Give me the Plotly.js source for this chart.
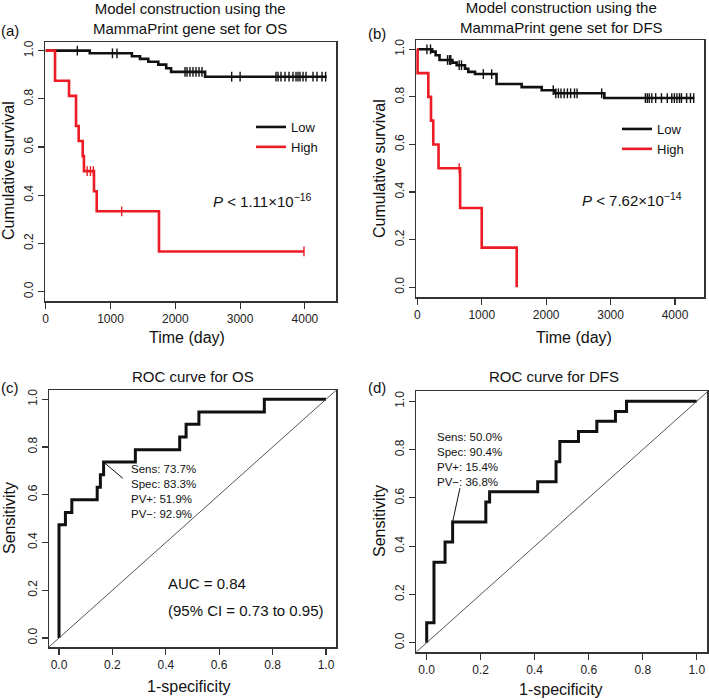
<!DOCTYPE html>
<html>
<head>
<meta charset="utf-8">
<script src="https://cdn.plot.ly/plotly-3.0.1.min.js"></script>
<style>
  html, body { margin: 0; padding: 0; background: #fff; }
  #chart { width: 709px; height: 700px; }
</style>
</head>
<body>
<div id="chart"></div>
<script>
// Overall survival, MammaPrint risk groups (panel a)
const osLowTime = [0, 680, 1330, 1455, 1583, 1738, 1860, 1935, 2460, 4336];
const osLowSurv = [1, 0.989, 0.977, 0.966, 0.954, 0.942, 0.927, 0.912, 0.892, 0.892];
const osLowCensor = [488, 1030, 1100, 2150, 2181, 2227, 2273, 2319, 2366, 2412, 2870, 3000,
  3554, 3585, 3631, 3693, 3755, 3816, 3863, 3894, 3924, 3971, 4017, 4125, 4187, 4264, 4320];
const osHighTime = [0, 144, 360, 468, 509, 571, 590, 745, 787, 1748, 3986];
const osHighSurv = [1, 0.875, 0.8125, 0.6875, 0.625, 0.5625, 0.5, 0.4167, 0.3333, 0.1667, 0.1667];
const osHighCensor = [640, 690, 735, 1173, 3986];

// Disease-free survival (panel b)
const dfsLowTime = [0, 230, 285, 345, 545, 611, 740, 792, 896, 1230, 1620, 1931, 2137, 2903, 4300];
const dfsLowSurv = [1, 0.990, 0.975, 0.955, 0.944, 0.933, 0.918, 0.905, 0.896, 0.854, 0.841, 0.828, 0.815, 0.795, 0.795];
const dfsLowCensor = [150, 205, 470, 500, 520, 650, 686, 1025, 1155, 2110, 2150, 2190, 2230, 2280, 2330,
  2380, 2440, 2480, 2862, 3540, 3570, 3600, 3640, 3700, 3790, 3880, 3950, 3990, 4030, 4070, 4100, 4180, 4240, 4290];
const dfsHighTime = [0, 5, 171, 213, 248, 330, 665, 1000, 1543];
const dfsHighSurv = [1, 0.9, 0.8, 0.7, 0.6, 0.5, 0.3333, 0.1667, 0];
const dfsHighCensor = [650];

const groupNames = ["Low", "High"];
const pValueText = ["1.11×10<sup>−16</sup>", "7.62×10<sup>−14</sup>"];

// ROC curves (panels c, d), 1-specificity vs sensitivity
const rocOsFpr = [0, 0, 0.024, 0.048, 0.143, 0.155, 0.167, 0.286, 0.452, 0.476, 0.524, 0.769, 1];
const rocOsSens = [0, 0.474, 0.526, 0.579, 0.632, 0.684, 0.737, 0.789, 0.842, 0.895, 0.947, 1, 1];
const rocDfsFpr = [0, 0, 0.027, 0.068, 0.096, 0.219, 0.233, 0.411, 0.479, 0.493, 0.562, 0.630, 0.699, 0.740, 1];
const rocDfsSens = [0, 0.083, 0.333, 0.417, 0.5, 0.583, 0.625, 0.667, 0.75, 0.833, 0.875, 0.917, 0.958, 1, 1];

const rocOsStats = ["Sens: 73.7%", "Spec: 83.3%", "PV+: 51.9%", "PV−: 92.9%"];
const rocDfsStats = ["Sens: 50.0%", "Spec: 90.4%", "PV+: 15.4%", "PV−: 36.8%"];
const rocOsCut = { sens: 0.737, spec: 0.833 };
const rocDfsCut = { sens: 0.500, spec: 0.904 };
const rocOsAuc = ["AUC = 0.84", "(95% CI = 0.73 to 0.95)"];

const W = 709, H = 700;
const font = "Liberation Sans, Arial, Helvetica, sans-serif";
const black = "#111111";
const red = "#ec1c24";

function dx(px) { return px / W; }
function dy(py) { return 1 - py / H; }

// survival value of a step curve at time t
function survAt(times, surv, t) {
    let s = surv[0];
    for (let i = 0; i < times.length; i++) {
        if (times[i] <= t) s = surv[i];
    }
    return s;
}

function kmTraces(times, surv, censor, color, name, xa, ya, legend) {
    return [{
        x: times, y: surv, xaxis: xa, yaxis: ya,
        type: "scatter", mode: "lines", name: name, legend: legend,
        line: { color: color, width: 2.6, shape: "hv" }
    }, {
        x: censor, y: censor.map(t => survAt(times, surv, t)), xaxis: xa, yaxis: ya,
        type: "scatter", mode: "markers", showlegend: false,
        marker: { symbol: "line-ns", size: 7, color: color, line: { color: color, width: 1.4 } }
    }];
}

function rocTrace(fpr, sens, xa, ya) {
    return {
        x: fpr, y: sens, xaxis: xa, yaxis: ya,
        type: "scatter", mode: "lines", showlegend: false,
        line: { color: black, width: 3, shape: "hv" }
    };
}

const traces = [
    ...kmTraces(osLowTime, osLowSurv, osLowCensor, black, groupNames[0], "x", "y", "legend"),
    ...kmTraces(osHighTime, osHighSurv, osHighCensor, red, groupNames[1], "x", "y", "legend"),
    ...kmTraces(dfsLowTime, dfsLowSurv, dfsLowCensor, black, groupNames[0], "x2", "y2", "legend2"),
    ...kmTraces(dfsHighTime, dfsHighSurv, dfsHighCensor, red, groupNames[1], "x2", "y2", "legend2"),
    rocTrace(rocOsFpr, rocOsSens, "x3", "y3"),
    rocTrace(rocDfsFpr, rocDfsSens, "x4", "y4")
];

function axis(domain, range, anchor, dtick, fmt, isY) {
    return {
        domain: domain, range: range, anchor: anchor,
        tick0: 0, dtick: dtick, tickformat: fmt,
        showgrid: false, zeroline: false,
        showline: true, mirror: true, linecolor: "#333", linewidth: 1.5,
        ticks: "outside", ticklen: 6, tickwidth: 1.2, tickcolor: "#333",
        tickfont: { family: font, size: 12, color: "#222" },
        tickangle: isY ? -90 : 0,
        fixedrange: true
    };
}

function ann(text, px, py, size, extra) {
    return Object.assign({
        text: text, xref: "paper", yref: "paper", x: dx(px), y: dy(py),
        xanchor: "center", yanchor: "middle", showarrow: false,
        font: { family: font, size: size, color: "#111" }
    }, extra || {});
}

function dataAnn(text, x, y, xa, ya, size) {
    return {
        text: text, xref: xa, yref: ya, x: x, y: y,
        xanchor: "left", yanchor: "middle", align: "left", showarrow: false,
        font: { family: font, size: size, color: "#111" }
    };
}

const annotations = [
    // panel letters
    ann("(a)", 10, 31, 15), ann("(b)", 377, 33, 15),
    ann("(c)", 10, 387, 15), ann("(d)", 377, 387, 15),
    // panel titles
    ann("Model construction using the<br>MammaPrint gene set for OS", 190, 19, 15),
    ann("Model construction using the<br>MammaPrint gene set for DFS", 561, 18, 15),
    ann("ROC curve for OS", 193, 376, 15),
    ann("ROC curve for DFS", 554, 376, 15),
    // axis titles
    ann("Cumulative survival", 9, 171, 16, { textangle: -90 }),
    ann("Cumulative survival", 379, 168, 16, { textangle: -90 }),
    ann("Sensitivity", 9, 518, 16, { textangle: -90 }),
    ann("Sensitivity", 379, 521, 16, { textangle: -90 }),
    ann("Time (day)", 187, 337, 16),
    ann("Time (day)", 574, 337, 16),
    ann("1-specificity", 189, 686, 16),
    ann("1-specificity", 561, 689, 16),
    // p values
    dataAnn("<i>P</i> < " + pValueText[0], 2550, 0.38, "x", "y", 15),
    dataAnn("<i>P</i> < " + pValueText[1], 2530, 0.367, "x2", "y2", 15),
    // AUC
    dataAnn(rocOsAuc[0], 0.400, 0.229, "x3", "y3", 15),
    dataAnn(rocOsAuc[1], 0.400, 0.114, "x3", "y3", 15),
    // cutoff statistics
    dataAnn(rocOsStats.join("<br>"), 0.264, 0.612, "x3", "y3", 11.5),
    dataAnn(rocDfsStats.join("<br>"), 0.031, 0.758, "x4", "y4", 11.5)
];

const shapes = [
    // chance diagonals
    { type: "line", xref: "x3", yref: "y3", x0: -0.037, y0: -0.037, x1: 1.037, y1: 1.037, line: { color: "#555", width: 1 } },
    { type: "line", xref: "x4", yref: "y4", x0: -0.038, y0: -0.038, x1: 1.038, y1: 1.038, line: { color: "#555", width: 1 } },
    // leader lines from the cutoff point to its label
    { type: "line", xref: "x3", yref: "y3", x0: 1 - rocOsCut.spec, y0: rocOsCut.sens, x1: 0.239, y1: 0.669, line: { color: black, width: 1 } },
    { type: "line", xref: "x4", yref: "y4", x0: 1 - rocDfsCut.spec, y0: rocDfsCut.sens, x1: 0.123, y1: 0.640, line: { color: black, width: 1 } }
];

const legendStyle = {
    xanchor: "left", yanchor: "top",
    font: { family: font, size: 13, color: "#111" },
    bgcolor: "rgba(0,0,0,0)", borderwidth: 0, tracegroupgap: 0
};

const layout = {
    width: W, height: H,
    margin: { l: 0, r: 0, t: 0, b: 0 },
    paper_bgcolor: "#fff", plot_bgcolor: "#fff",
    font: { family: font, color: "#111" },
    xaxis: axis([dx(45), dx(336)], [-11, 4480], "y", 1000, "d", false),
    yaxis: axis([dy(301), dy(42)], [-0.039, 1.036], "x", 0.2, ".1f", true),
    xaxis2: axis([dx(416), dx(704)], [-20, 4450], "y2", 1000, "d", false),
    yaxis2: axis([dy(297), dy(40)], [-0.041, 1.039], "x2", 0.2, ".1f", true),
    xaxis3: axis([dx(49), dx(336)], [-0.0375, 1.0375], "y3", 0.2, ".1f", false),
    yaxis3: axis([dy(647), dy(390)], [-0.0377, 1.039], "x3", 0.2, ".1f", true),
    xaxis4: axis([dx(416), dx(707)], [-0.0396, 1.038], "y4", 0.2, ".1f", false),
    yaxis4: axis([dy(652), dy(391)], [-0.0385, 1.0427], "x4", 0.2, ".1f", true),
    legend: Object.assign({ x: dx(251), y: dy(112) }, legendStyle),
    legend2: Object.assign({ x: dx(617), y: dy(114) }, legendStyle),
    annotations: annotations,
    shapes: shapes
};

Plotly.newPlot("chart", traces, layout, { displayModeBar: false, staticPlot: true });
</script>
</body>
</html>
